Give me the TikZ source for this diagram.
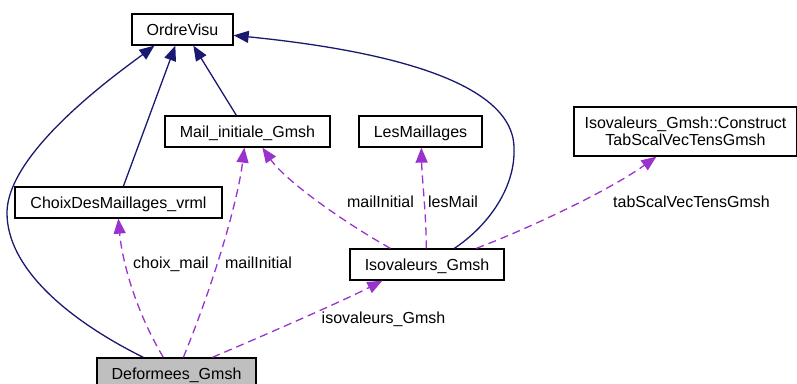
\documentclass[tikz,border=0pt]{standalone}
\usepackage{fontspec}
\setmainfont{Liberation Sans}
\usetikzlibrary{arrows.meta,calc}
\definecolor{inheritblue}{HTML}{191970}
\definecolor{usagepurple}{HTML}{9A32CD}
\definecolor{focusgray}{HTML}{BFBFBF}

\begin{document}
\begin{tikzpicture}[x=1pt,y=-1pt,
  cls/.style={draw=black, line width=1.3pt, fill=white, inner sep=0pt,
    text height=11.5pt, text depth=0pt, font=\fontsize{16}{17.5}\selectfont},
  lbl/.style={inner sep=0pt, anchor=base, font=\fontsize{16}{17.5}\selectfont},
  inh/.style={color=inheritblue, line width=1.3pt, -{Triangle[length=15pt,width=12pt]}},
  use/.style={color=usagepurple, line width=1.3pt, dash pattern=on 8pt off 5pt,
    -{Triangle[length=15pt,width=12pt]}}
]
\clip (0,0) rectangle (797,383);

% classes
\node[cls, minimum width=101pt, minimum height=31pt] (ov)  at (182.5,29.5) {OrdreVisu};
\node[cls, minimum width=165pt, minimum height=31pt] (mi)  at (247.5,131.5) {Mail\_initiale\_Gmsh};
\node[cls, minimum width=123pt, minimum height=31pt] (lm)  at (420.5,131.5) {LesMaillages};
\node[draw=black, line width=1.3pt, fill=white, inner sep=0pt, align=center,
      minimum width=223pt, minimum height=49pt, font=\fontsize{16}{17.5}\selectfont]
      (cs) at (685.5,131.5) {Isovaleurs\_Gmsh::Construct\\TabScalVecTensGmsh};
\node[cls, minimum width=207pt, minimum height=31pt] (cd)  at (118.5,202.5) {ChoixDesMaillages\_vrml};
\node[cls, minimum width=154pt, minimum height=31pt] (iso) at (427,264.5) {Isovaleurs\_Gmsh};
\node[cls, fill=focusgray, minimum width=159pt, minimum height=31pt] (dg) at (176.5,373.5) {Deformees\_Gmsh};

% inheritance
\draw[inh] ($(dg.north west)+(47,0)$) .. controls (68,320) and (7,268) .. (7,213)
           .. controls (7,150) and (125,68) .. ($(ov.south west)+(23,0)$);
\draw[inh] ($(cd.north west)+(109,0)$) -- ($(ov.south west)+(44,0)$);
\draw[inh] ($(mi.north west)+(72,0)$) -- ($(ov.south west)+(62,0)$);
\draw[inh] ($(iso.north west)+(105,0)$) .. controls (485,228) and (516,190) .. (514,147)
           .. controls (512,80) and (380,50) .. ($(ov.north east)+(0,22)$);

% usage relations
\draw[use] ($(dg.north west)+(67,0)$) .. controls (135,310) and (122,260) .. ($(cd.south west)+(104,0)$);
\draw[use] ($(dg.north west)+(87,0)$) .. controls (215,280) and (238,200) .. ($(mi.south west)+(80,0)$);
\draw[use] ($(dg.north west)+(116,0)$) .. controls (265,335) and (345,300) .. ($(iso.south west)+(33,0)$);
\draw[use] ($(iso.north west)+(41,0)$) .. controls (340,220) and (285,180) .. ($(mi.south west)+(98,0)$);
\draw[use] ($(iso.north west)+(77,0)$) .. controls (426,210) and (422,180) .. ($(lm.south west)+(63,0)$);
\draw[use] ($(iso.north west)+(127,0)$) .. controls (530,228) and (610,190) .. ($(cs.south west)+(83,0)$);

% edge labels
\node[lbl] (l1) at (171,268.5) {choix\_mail};
\node[lbl] (l2) at (258.5,268.5) {mailInitial};
\node[lbl] (l3) at (383.5,323) {isovaleurs\_Gmsh};
\node[lbl] (l4) at (380.5,207.5) {mailInitial};
\node[lbl] (l5) at (453,207.5) {lesMail};
\node[lbl] (l6) at (691.5,207.5) {tabScalVecTensGmsh};
\end{tikzpicture}
\end{document}
